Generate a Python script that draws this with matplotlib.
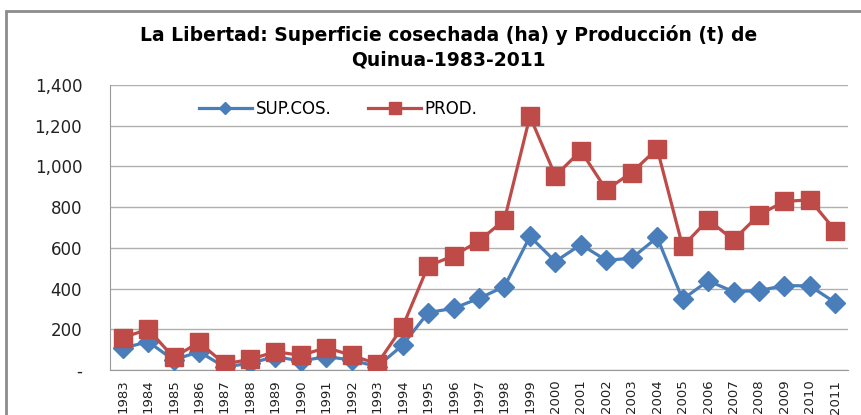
import matplotlib.pyplot as plt
from matplotlib.patches import Rectangle

# data
years = [str(y) for y in range(1983, 2012)]
sup_cos = [107, 139, 49, 90, 15, 33, 66, 44, 66, 49, 16, 123, 282, 303, 352, 410,
           656, 533, 616, 539, 549, 651, 347, 438, 385, 390, 415, 413, 331]
prod = [159, 200, 62, 136, 30, 52, 90, 72, 110, 72, 30, 213, 511, 561, 634, 738,
        1246, 954, 1077, 885, 970, 1087, 607, 738, 639, 762, 828, 836, 685]
y_ticks = [0, 200, 400, 600, 800, 1000, 1200, 1400]
y_labels = ["-", "200", "400", "600", "800", "1,000", "1,200", "1,400"]

blue = "#4A7EBB"
red = "#BE4B48"

fig = plt.figure(figsize=(8.62, 4.15), dpi=100)
ax = fig.add_axes([0.1276, 0.1084, 0.8562, 0.6868])

x = range(len(years))
ax.plot(x, sup_cos, color=blue, linewidth=2.3, marker="D", markersize=10,
        label="SUP.COS.", zorder=3)
ax.plot(x, prod, color=red, linewidth=2.3, marker="s", markersize=13,
        label="PROD.", zorder=4)

ax.set_xlim(-0.5, len(years) - 0.5)
ax.set_ylim(0, 1400)
ax.set_yticks(y_ticks)
ax.set_yticklabels(y_labels, fontsize=12, color="#222222")
ax.set_xticks(list(x))
ax.set_xticklabels(years, rotation=90, fontsize=9.5, color="#222222")
ax.tick_params(length=0, pad=7)
ax.tick_params(axis="y", pad=20)
ax.grid(axis="y", color="#b0b0b0", linewidth=1)
ax.set_axisbelow(True)
for side in ["top", "right"]:
    ax.spines[side].set_visible(False)
for side in ["left", "bottom"]:
    ax.spines[side].set_color("#999999")

ax.legend(loc="upper left", bbox_to_anchor=(0.1, 1.0), ncol=2, frameon=False,
          fontsize=12, handlelength=3.2, handletextpad=0.2, columnspacing=2.2,
          markerscale=0.65)

fig.text(0.52, 0.915, "La Libertad: Superficie cosechada (ha) y Producción (t) de",
         ha="center", va="center", fontsize=13.5, fontweight="bold")
fig.text(0.52, 0.855, "Quinua-1983-2011", ha="center", va="center",
         fontsize=13.5, fontweight="bold")

# outer chart border
fig.patches.append(Rectangle((6 / 862, -0.05), 1.0, 1.0 - 11 / 415 + 0.05,
                             transform=fig.transFigure, fill=False,
                             edgecolor="#8c8c8c", linewidth=2))

fig.savefig("out.png", dpi=100)
